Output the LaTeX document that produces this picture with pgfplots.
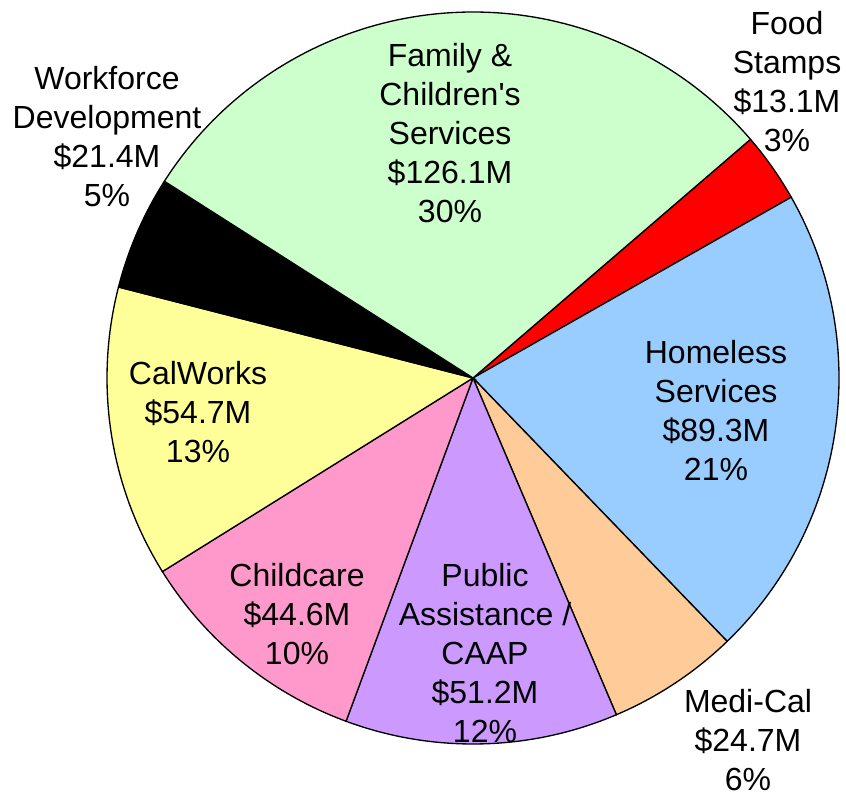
\documentclass[border=0pt]{standalone}
\usepackage{pgfplots}
\pgfplotsset{compat=1.18}
\usepackage{fontspec}
\setmainfont{Liberation Sans}

\definecolor{famgreen}{RGB}{204,255,204}
\definecolor{homeblue}{RGB}{153,204,255}
\definecolor{medipeach}{RGB}{255,204,153}
\definecolor{publilac}{RGB}{204,153,255}
\definecolor{childpink}{RGB}{255,153,204}
\definecolor{calyellow}{RGB}{255,255,153}

\tikzset{lbl/.style={font=\fontsize{9.6}{11.7}\selectfont, align=center, inner sep=0pt}}

% slice values ($M), clockwise from the Food Stamps edge
\pgfmathsetmacro\total{126.1+13.1+89.3+24.7+51.2+44.6+54.7+21.4}
\pgfmathsetmacro\aA{40.7}
\pgfmathsetmacro\aB{\aA-13.1/\total*360}   % food stamps
\pgfmathsetmacro\aC{\aB-89.3/\total*360}   % homeless
\pgfmathsetmacro\aD{\aC-24.7/\total*360}   % medi-cal
\pgfmathsetmacro\aE{\aD-51.2/\total*360}   % public assistance
\pgfmathsetmacro\aF{\aE-44.6/\total*360}   % childcare
\pgfmathsetmacro\aG{\aF-54.7/\total*360}   % calworks
\pgfmathsetmacro\aH{\aG-21.4/\total*360}   % workforce
\pgfmathsetmacro\aI{\aH-126.1/\total*360}  % family

\begin{document}
\begin{tikzpicture}
\begin{axis}[
  width=253.8pt, height=238.2pt,
  scale only axis,
  hide axis,
  xmin=0, xmax=846, ymin=0, ymax=794,
  clip=false,
  every axis plot/.append style={draw=black, line width=0.4pt, samples=90, no markers},
]
\path (axis cs:0,0) rectangle (axis cs:846,794);
\addplot[fill=red, domain=\aB:\aA] ({473+366*cos(x)},{416+366*sin(x)}) -- (axis cs:473,416) -- cycle;
\addplot[fill=homeblue, domain=\aC:\aB] ({473+366*cos(x)},{416+366*sin(x)}) -- (axis cs:473,416) -- cycle;
\addplot[fill=medipeach, domain=\aD:\aC] ({473+366*cos(x)},{416+366*sin(x)}) -- (axis cs:473,416) -- cycle;
\addplot[fill=publilac, domain=\aE:\aD] ({473+366*cos(x)},{416+366*sin(x)}) -- (axis cs:473,416) -- cycle;
\addplot[fill=childpink, domain=\aF:\aE] ({473+366*cos(x)},{416+366*sin(x)}) -- (axis cs:473,416) -- cycle;
\addplot[fill=calyellow, domain=\aG:\aF] ({473+366*cos(x)},{416+366*sin(x)}) -- (axis cs:473,416) -- cycle;
\addplot[fill=black, domain=\aH:\aG] ({473+366*cos(x)},{416+366*sin(x)}) -- (axis cs:473,416) -- cycle;
\addplot[fill=famgreen, domain=\aI:\aH] ({473+366*cos(x)},{416+366*sin(x)}) -- (axis cs:473,416) -- cycle;

\node[lbl] at (axis cs:450,661) {Family \&\\Children\textquotesingle s\\Services\\\$126.1M\\30\%};
\node[lbl] at (axis cs:787,712) {Food\\Stamps\\\$13.1M\\3\%};
\node[lbl] at (axis cs:107,657) {Workforce\\Development\\\$21.4M\\5\%};
\node[lbl] at (axis cs:716,383) {Homeless\\Services\\\$89.3M\\21\%};
\node[lbl] at (axis cs:198,382) {CalWorks\\\$54.7M\\13\%};
\node[lbl] at (axis cs:297,180) {Childcare\\\$44.6M\\10\%};
\node[lbl] at (axis cs:485,141) {Public\\Assistance /\\CAAP\\\$51.2M\\12\%};
\node[lbl] at (axis cs:748,54) {Medi-Cal\\\$24.7M\\6\%};
\end{axis}
\end{tikzpicture}
\end{document}
